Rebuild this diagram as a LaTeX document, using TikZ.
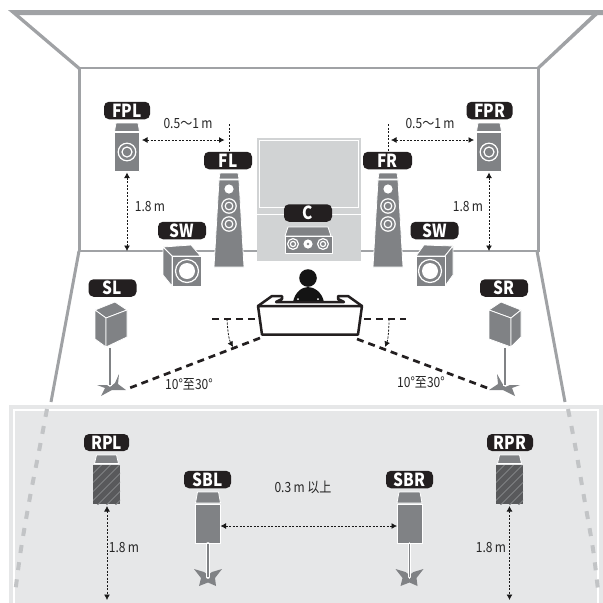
\documentclass[tikz,border=0pt]{standalone}
\usepackage{fontspec}
\setmainfont{Noto Sans CJK SC}
\newfontfamily\narrowfont[FakeStretch=0.86]{Noto Sans CJK SC}
\usetikzlibrary{arrows.meta}
\definecolor{wallgray}{HTML}{A0A2A5}
\definecolor{spk}{HTML}{808285}
\definecolor{spkdark}{HTML}{58595B}
\definecolor{tagblack}{HTML}{231F20}
\definecolor{panel}{HTML}{D1D3D4}
\definecolor{rearbg}{HTML}{E6E7E8}
\definecolor{dashgray}{HTML}{C2C4C6}
\tikzset{
  tag/.style={fill=tagblack,text=white,rounded corners=5pt,minimum height=17.5pt,inner sep=0pt,font=\narrowfont\fontsize{18}{18}\selectfont\bfseries},
  dim/.style={text=black!85,inner sep=0pt,font=\narrowfont\fontsize{14}{15}\selectfont},
  wall/.style={draw=wallgray,line width=3pt},
  thinwall/.style={draw=wallgray,line width=1.3pt},
  body/.style={fill=spk,draw=white,line width=0.8pt,line join=round},
  ring/.style={draw=white,line width=1.2pt,fill=spk},
  dimarrow/.style={draw=black!90,line width=0.8pt,dash pattern=on 2.2pt off 1.3pt,{Latex[length=5.5pt,width=6pt]}-{Latex[length=5.5pt,width=6pt]}},
  dimline/.style={draw=black!90,line width=0.8pt,dash pattern=on 2.2pt off 1.3pt},
  thickdash/.style={draw=tagblack,line width=2.7pt,dash pattern=on 7pt off 5pt},
  anglearrow/.style={draw=black!90,line width=0.8pt,dash pattern=on 2.2pt off 1.3pt,-{Latex[length=5.5pt,width=6pt]}},
  reardash/.style={draw=dashgray,line width=4pt,dash pattern=on 8pt off 9.3pt},
}
% floor-standing tower, #1 = centre x
\newcommand{\towerspk}[1]{\begin{scope}[shift={(#1,0)}]
  \path[body] (-9,173) -- (9,173) -- (10,179) -- (-10,179) -- cycle;
  \path[body] (-10,180) -- (10,180) -- (15,267) -- (-15,267) -- cycle;
  \fill[white] (0,189) circle (4.6);
  \path[ring] (0,206) circle (7.2); \path[ring] (0,206) circle (3.8);
  \path[ring] (0,224) circle (7.2); \path[ring] (0,224) circle (3.8);
\end{scope}}
% front presence speaker
\newcommand{\presspk}[1]{\begin{scope}[shift={(#1,0)}]
  \path[body] (-11,123) -- (11,123) -- (12.5,131.5) -- (-12.5,131.5) -- cycle;
  \path[body] (-12.5,132.5) -- (12.5,132.5) -- (12.5,171.5) -- (-12.5,171.5) -- cycle;
  \path[ring] (0,152) circle (8.8);
  \path[ring] (0,152) circle (5);
\end{scope}}
% star-shaped foot
\newcommand{\standspk}[1]{\begin{scope}[shift={(#1,0)}]
  \path[fill=spk,draw=white,line width=0.8pt] (-10.5,492) -- (10.5,492) -- (12.5,503) -- (-12.5,503) -- cycle;
  \path[body] (-12.5,504) -- (12.5,504) -- (12.5,543) -- (-12.5,543) -- cycle;
  \fill[spk] (-14,569) -- (-4,572) -- (0,575) -- (4,572) -- (14,569) -- (7,578) -- (8,586) -- (0,582.5) -- (-9,586) -- (-7,578) -- cycle;
  \draw[white,line width=3.6pt,line cap=round] (0,544) -- (0,577);
  \draw[spk,line width=1.8pt] (0,544) -- (0,577);
\end{scope}}
% rear presence speaker
\newcommand{\rearspk}[1]{\begin{scope}[shift={(#1,0)}]
  \path[body] (-10,455) -- (10,455) -- (12,463.5) -- (-12,463.5) -- cycle;
  \fill[spkdark] (-13.5,465) rectangle (13.5,504);
  \begin{scope}
    \clip (-13.5,465) rectangle (13.5,504);
    \foreach \d in {-30,-21,...,50} \draw[spk,line width=1pt] (\d-20,510) -- (\d+30,460);
  \end{scope}
\end{scope}}
\begin{document}
\begin{tikzpicture}[x=1pt,y=-1pt]
\useasboundingbox (0,0) rectangle (603,603);
% room
\fill[wallgray] (8,10) -- (603,10) -- (603,15) -- (17,15) -- cycle;
\fill[wallgray] (8,10) -- (19,15) -- (80,67) -- (78,69.5) -- cycle;
\fill[wallgray] (603,10) -- (592,15) -- (537,67) -- (539,69.5) -- cycle;
\draw[thinwall] (79,68) -- (538,68);
\draw[wall] (79,68) -- (79,252);
\draw[wall] (538,68) -- (538,252);
\draw[thinwall] (78,251) -- (539,251);
\draw[wall] (79,251) -- (51,402);
\draw[wall] (537,251) -- (565,402);
% rear zone
\fill[rearbg] (9,405) rectangle (603,603);
\draw[white,line width=1.2pt] (14,604) -- (14,410) -- (598,410) -- (598,604);
\draw[reardash] plot[smooth] coordinates {(47,409) (40,446) (30,497) (21,549) (15.5,590)};
\draw[reardash] plot[smooth] coordinates {(568,409) (575,445) (584,497) (593,549) (598,590)};
% screen
\fill[panel] (257,138) rectangle (361,261);
\draw[white,line width=1pt] (259.5,140.5) rectangle (358.5,207);
\draw[white,line width=1.2pt] (257,214.5) -- (361,214.5);
% centre speaker
\path[body] (288,227) -- (328,227) -- (331,236) -- (285,236) -- cycle;
\path[body] (285,236.5) rectangle (332,253.5);
\path[ring] (293,244) circle (5.4); \path[ring] (293,244) circle (2.6);
\path[ring] (323,244) circle (5.4); \path[ring] (323,244) circle (2.6);
\fill[white] (308,244) circle (4.6); \fill[spk] (308,244) circle (1.4);
% front speakers
\towerspk{229}
\towerspk{388}
\presspk{127}
\presspk{489}
% subwoofers
\path[body] (163,247) -- (191,245) -- (200.5,256) -- (172,256) -- cycle;
\path[body] (163,247) -- (172,256) -- (172,286) -- (163,275) -- cycle;
\path[body] (172,256) rectangle (201,286);
\path[ring] (187,271) circle (11.5);
\fill[white] (187,271) circle (8);
\path[body] (424,245) -- (453,246) -- (445,256) -- (416,256) -- cycle;
\path[body] (445,256) -- (453,246) -- (453,275) -- (445,286) -- cycle;
\path[body] (416,256) rectangle (445,286);
\path[ring] (430,271) circle (11.5);
\fill[white] (430,271) circle (8);
% surround speakers
\path[body] (95,310) -- (115,302) -- (127,310) -- (106,318) -- cycle;
\path[body] (95,310) -- (106,318) -- (106,347) -- (95,339) -- cycle;
\path[body] (106,318) -- (127,310) -- (127,337) -- (106,347) -- cycle;
\draw[spk,line width=1.6pt] (110,348) -- (110,386);
\fill[spk] (97,385) -- (107,385) -- (110,387) -- (115,383) -- (119,374) -- (118,384) -- (126,390) -- (112,390) -- (101,396) -- (105,388) -- cycle;
\draw[white,line width=0.7pt] (111.5,378) -- (111.5,385) -- (108.5,385) -- (108.5,378);
\path[body] (489,310) -- (501,302) -- (521,310) -- (511,318) -- cycle;
\path[body] (489,310) -- (511,318) -- (511,347) -- (489,339) -- cycle;
\path[body] (511,318) -- (521,310) -- (521,337) -- (511,347) -- cycle;
\draw[spk,line width=1.6pt] (505,348) -- (505,386);
\fill[spk] (520,385) -- (510,385) -- (505,387) -- (502,383) -- (497,374) -- (498,384) -- (489,390) -- (503,390) -- (515,396) -- (512,388) -- cycle;
\draw[white,line width=0.7pt] (506.5,378) -- (506.5,385) -- (503.5,385) -- (503.5,378);
% rear speakers
\rearspk{106.5}
\rearspk{509.5}
\standspk{208}
\standspk{409.5}
% listener
\fill[black!92] (308,278) circle (8.8);
\fill[black!92] (293,302) .. controls (295,292) and (302,287) .. (308,287) .. controls (314,287) and (322,292) .. (324,302) -- cycle;
\fill[white] (298,299) circle (1) (318,299) circle (1);
\draw[tagblack,line width=2.5pt,line join=round,fill=white] (258,306) -- (262,334.5) -- (358,334.5) -- (362,306) -- cycle;
\draw[tagblack,line width=2.5pt,line join=round] (258,306) -- (272,296) -- (282,296) -- (282,299) -- (276,302) -- (344,302) -- (338,299) -- (338,296) -- (348,296) -- (362,306);
% angle lines
\coordinate (hl1) at (212,319); \coordinate (hl2) at (255,319);
\coordinate (hr1) at (364,319); \coordinate (hr2) at (406,319);
\coordinate (dl1) at (260,338); \coordinate (dl2) at (127,389);
\coordinate (dr1) at (357,339); \coordinate (dr2) at (490,389);
\draw[thickdash] (hl2) -- (hl1);
\draw[thickdash] (hr1) -- (hr2);
\draw[thickdash] (dl1) -- (dl2);
\draw[thickdash] (dr1) -- (dr2);
\coordinate (al1) at (227,319); \coordinate (al2) at (233,347);
\coordinate (ar1) at (389,319); \coordinate (ar2) at (385,347);
\draw[anglearrow] (al1) .. controls (227.5,330) and (229,340) .. (al2);
\draw[anglearrow] (ar1) .. controls (389,330) and (388,340) .. (ar2);
\node[dim] (angL) at (189,384) {10°至30°};
\node[dim] (angR) at (421,382) {10°至30°};
% dimension lines
\coordinate (fla) at (229,124); \coordinate (flb) at (229,152);
\coordinate (fra) at (388,124); \coordinate (frb) at (388,152);
\draw[dimline] (fla) -- (flb);
\draw[dimline] (fra) -- (frb);
\coordinate (h1a) at (142,140); \coordinate (h1b) at (224.5,140);
\coordinate (h2a) at (391,140); \coordinate (h2b) at (474,140);
\draw[dimarrow] (h1a) -- (h1b);
\draw[dimarrow] (h2a) -- (h2b);
\coordinate (v1a) at (127,172.5); \coordinate (v1b) at (127,251);
\coordinate (v2a) at (489,172.5); \coordinate (v2b) at (489,251);
\draw[dimarrow] (v1a) -- (v1b);
\draw[dimarrow] (v2a) -- (v2b);
\coordinate (v3a) at (107,506); \coordinate (v3b) at (107,600);
\coordinate (v4a) at (509.5,506); \coordinate (v4b) at (509.5,600);
\draw[dimarrow] (v3a) -- (v3b);
\draw[dimarrow] (v4a) -- (v4b);
\coordinate (h3a) at (220.5,526); \coordinate (h3b) at (397,526);
\draw[dimarrow] (h3a) -- (h3b);
\node[dim] (d1) at (188,124) {0.5～1\,m};
\node[dim] (d2) at (430,124) {0.5～1\,m};
\node[dim] (d3) at (150,207) {1.8\,m};
\node[dim] (d4) at (468,207) {1.8\,m};
\node[dim] (d5) at (124,548) {1.8\,m};
\node[dim] (d6) at (491,548) {1.8\,m};
\node[dim] (d7) at (303,487) {0.3\,m 以上};
% tags
\node[tag,minimum width=46pt] (FPL) at (127,110.5) {FPL};
\node[tag,minimum width=46pt] (FPR) at (489.5,110.5) {FPR};
\node[tag,minimum width=48pt] (FL) at (228,160.5) {FL};
\node[tag,minimum width=49pt] (FR) at (387.5,160.5) {FR};
\node[tag,minimum width=48pt] (C) at (308,213) {C};
\node[tag,minimum width=48pt] (SWL) at (182,230.5) {SW};
\node[tag,minimum width=48pt] (SWR) at (434.5,230.5) {SW};
\node[tag,minimum width=48pt] (SL) at (112.5,288) {SL};
\node[tag,minimum width=48pt] (SR) at (504,288) {SR};
\node[tag,minimum width=45pt,minimum height=17pt] (RPL) at (106.5,442.5) {RPL};
\node[tag,minimum width=46pt,minimum height=17pt] (RPR) at (510,442.5) {RPR};
\node[tag,minimum width=47pt] (SBL) at (207.5,479.5) {SBL};
\node[tag,minimum width=47pt] (SBR) at (409.5,479.5) {SBR};
\end{tikzpicture}
\end{document}
